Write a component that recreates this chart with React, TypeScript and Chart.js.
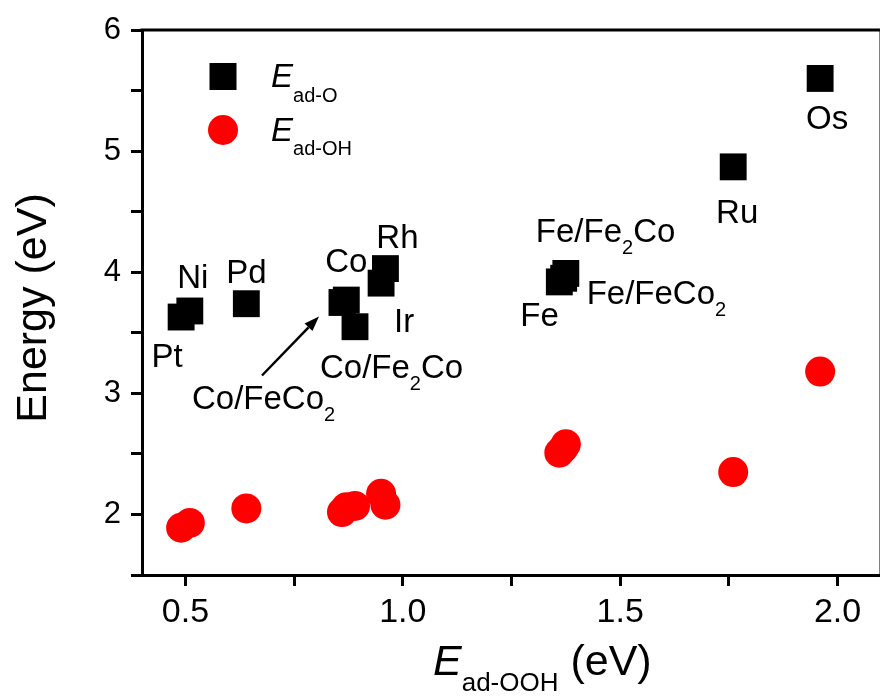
import { useEffect, useRef } from 'react';
import { Chart, registerables } from 'chart.js';

Chart.register(...registerables);

// ---------- data ----------
const categories = ['Pt', 'Ni', 'Pd', 'Co/FeCo2', 'Co', 'Co/Fe2Co', 'Ir', 'Rh', 'Fe', 'Fe/FeCo2', 'Fe/Fe2Co', 'Ru', 'Os'];
const eAdOOH = [0.49, 0.51, 0.64, 0.86, 0.87, 0.89, 0.95, 0.96, 1.36, 1.37, 1.375, 1.76, 1.96];
const eAdO = [3.63, 3.68, 3.74, 3.75, 3.77, 3.55, 3.91, 4.03, 3.92, 3.95, 3.99, 4.87, 5.60];
const eAdOH = [1.89, 1.93, 2.05, 2.02, 2.06, 2.07, 2.17, 2.08, 2.51, 2.55, 2.58, 2.35, 3.18];

const xTickValues = [0.5, 0.75, 1.0, 1.25, 1.5, 1.75, 2.0];
const xTickLabels = ['0.5', '', '1.0', '', '1.5', '', '2.0'];
const yTickValues = [1.5, 2, 2.5, 3, 3.5, 4, 4.5, 5, 5.5, 6];
const yTickLabels = ['', '2', '', '3', '', '4', '', '5', '', '6'];

const FONT = '"Liberation Sans", Arial, Helvetica, sans-serif';

type Run = { t: string; sub?: boolean; italic?: boolean };

// label text pieces for each category (subscripts marked)
const labelRuns: Run[][] = [
  [{ t: 'Pt' }],
  [{ t: 'Ni' }],
  [{ t: 'Pd' }],
  [{ t: 'Co/FeCo' }, { t: '2', sub: true }],
  [{ t: 'Co' }],
  [{ t: 'Co/Fe' }, { t: '2', sub: true }, { t: 'Co' }],
  [{ t: 'Ir' }],
  [{ t: 'Rh' }],
  [{ t: 'Fe' }],
  [{ t: 'Fe/FeCo' }, { t: '2', sub: true }],
  [{ t: 'Fe/Fe' }, { t: '2', sub: true }, { t: 'Co' }],
  [{ t: 'Ru' }],
  [{ t: 'Os' }],
];

// label placement (pixel offsets from each E_ad-O marker)
const labelLayout: { dx: number; dy: number; align: 'left' | 'center' }[] = [
  { dx: -14, dy: 50, align: 'center' },
  { dx: 3, dy: -23, align: 'center' },
  { dx: 0, dy: -21, align: 'center' },
  { dx: -150, dy: 106, align: 'left' },
  { dx: 0, dy: -28, align: 'center' },
  { dx: -35, dy: 51, align: 'left' },
  { dx: 23, dy: 49, align: 'center' },
  { dx: 12, dy: -21, align: 'center' },
  { dx: -39, dy: 44, align: 'left' },
  { dx: 23, dy: 26, align: 'left' },
  { dx: -30, dy: -31, align: 'left' },
  { dx: 4, dy: 56, align: 'center' },
  { dx: 7, dy: 51, align: 'center' },
];

function runFont(r: Run, size: number, subSize: number) {
  return `${r.italic ? 'italic ' : ''}${r.sub ? subSize : size}px ${FONT}`;
}

function runsWidth(ctx: CanvasRenderingContext2D, runs: Run[], size: number, subSize: number) {
  let w = 0;
  for (const r of runs) {
    ctx.font = runFont(r, size, subSize);
    w += ctx.measureText(r.t).width;
  }
  return w;
}

function drawRuns(
  ctx: CanvasRenderingContext2D,
  runs: Run[],
  x: number,
  y: number,
  align: 'left' | 'center',
  size: number,
  subSize: number,
  subDrop: number
) {
  let cx = align === 'center' ? x - runsWidth(ctx, runs, size, subSize) / 2 : x;
  ctx.textAlign = 'left';
  ctx.textBaseline = 'alphabetic';
  for (const r of runs) {
    ctx.font = runFont(r, size, subSize);
    ctx.fillText(r.t, cx, r.sub ? y + subDrop : y);
    cx += ctx.measureText(r.t).width;
  }
}

const decorPlugin = {
  id: 'decor',
  afterDraw(chart: any) {
    const { ctx, chartArea } = chart;
    const xs = chart.scales.x;
    const ys = chart.scales.y;
    ctx.save();
    ctx.fillStyle = '#000';
    ctx.strokeStyle = '#000';

    // top and right frame
    ctx.lineWidth = 3;
    ctx.beginPath();
    ctx.moveTo(chartArea.left - 1.5, chartArea.top);
    ctx.lineTo(chartArea.right, chartArea.top);
    ctx.lineTo(chartArea.right, chartArea.bottom);
    ctx.stroke();

    // point labels
    for (let i = 0; i < categories.length; i++) {
      const px = xs.getPixelForValue(eAdOOH[i]);
      const py = ys.getPixelForValue(eAdO[i]);
      const l = labelLayout[i];
      drawRuns(ctx, labelRuns[i], px + l.dx, py + l.dy, l.align, 33, 20, 12);
    }

    // arrow pointing to Co/FeCo2
    const ai = categories.indexOf('Co/FeCo2');
    const ax = xs.getPixelForValue(eAdOOH[ai]);
    const ay = ys.getPixelForValue(eAdO[ai]);
    const x0 = ax - 80, y0 = ay + 73;
    const x1 = ax - 23, y1 = ay + 14;
    const ang = Math.atan2(y1 - y0, x1 - x0);
    const hl = 15, hw = 5.5;
    const bx = x1 - hl * Math.cos(ang), by = y1 - hl * Math.sin(ang);
    ctx.lineWidth = 2.5;
    ctx.beginPath();
    ctx.moveTo(x0, y0);
    ctx.lineTo(bx, by);
    ctx.stroke();
    ctx.beginPath();
    ctx.moveTo(x1, y1);
    ctx.lineTo(bx + hw * Math.sin(ang), by - hw * Math.cos(ang));
    ctx.lineTo(bx - hw * Math.sin(ang), by + hw * Math.cos(ang));
    ctx.closePath();
    ctx.fill();

    // legend
    const lx = chartArea.left + 81;
    ctx.fillStyle = '#000';
    ctx.fillRect(lx - 13.5, 63, 27, 27);
    ctx.fillStyle = '#ff0000';
    ctx.beginPath();
    ctx.arc(lx, 130, 15, 0, Math.PI * 2);
    ctx.fill();
    ctx.fillStyle = '#000';
    drawRuns(ctx, [{ t: 'E', italic: true }, { t: 'ad-O', sub: true }], lx + 48, 87, 'left', 33, 20, 15);
    drawRuns(ctx, [{ t: 'E', italic: true }, { t: 'ad-OH', sub: true }], lx + 48, 141, 'left', 33, 20, 14);

    // x axis title
    drawRuns(
      ctx,
      [{ t: 'E', italic: true }, { t: 'ad-OOH', sub: true }, { t: ' (eV)' }],
      433,
      675,
      'left',
      43,
      26,
      16
    );

    // y axis title
    ctx.save();
    ctx.translate(46, 308);
    ctx.rotate(-Math.PI / 2);
    ctx.font = `43px ${FONT}`;
    ctx.textAlign = 'center';
    ctx.textBaseline = 'alphabetic';
    ctx.fillText('Energy (eV)', 0, 0);
    ctx.restore();

    ctx.restore();
  },
};

export default function App() {
  const ref = useRef<HTMLCanvasElement | null>(null);

  useEffect(() => {
    const canvas = ref.current;
    if (!canvas) return;
    const chart = new Chart(canvas, {
      type: 'scatter',
      data: {
        datasets: [
          {
            label: 'E_ad-O',
            data: eAdOOH.map((x, i) => ({ x, y: eAdO[i] })),
            pointStyle: 'rect',
            pointRadius: 19,
            pointHoverRadius: 19,
            backgroundColor: '#000000',
            borderColor: '#000000',
            borderWidth: 0,
          },
          {
            label: 'E_ad-OH',
            data: eAdOOH.map((x, i) => ({ x, y: eAdOH[i] })),
            pointStyle: 'circle',
            pointRadius: 15,
            pointHoverRadius: 15,
            backgroundColor: '#ff0000',
            borderColor: '#ff0000',
            borderWidth: 0,
          },
        ],
      },
      options: {
        responsive: false,
        animation: false,
        devicePixelRatio: 1,
        layout: { padding: { top: 30, right: 17, left: 0, bottom: 0 } },
        plugins: {
          legend: { display: false },
          tooltip: { enabled: false },
        },
        scales: {
          x: {
            type: 'linear',
            min: 0.4,
            max: 2.1,
            afterBuildTicks: (s: any) => {
              s.ticks = xTickValues.map((value) => ({ value }));
            },
            afterFit: (s: any) => {
              s.height = 122;
            },
            ticks: {
              autoSkip: false,
              maxRotation: 0,
              color: '#000',
              padding: 6,
              font: { family: FONT, size: 34 },
              callback: (v: any) => {
                const idx = xTickValues.findIndex((t) => Math.abs(t - Number(v)) < 1e-6);
                return idx >= 0 ? xTickLabels[idx] : '';
              },
            },
            grid: { drawOnChartArea: false, drawTicks: true, tickLength: 11, tickWidth: 3, tickColor: '#000' },
            border: { display: true, width: 3, color: '#000' },
          },
          y: {
            type: 'linear',
            min: 1.5,
            max: 6,
            afterBuildTicks: (s: any) => {
              s.ticks = yTickValues.map((value) => ({ value }));
            },
            afterFit: (s: any) => {
              s.width = 142;
            },
            ticks: {
              autoSkip: false,
              color: '#000',
              padding: 10,
              font: { family: FONT, size: 31 },
              callback: (v: any) => {
                const idx = yTickValues.findIndex((t) => Math.abs(t - Number(v)) < 1e-6);
                return idx >= 0 ? yTickLabels[idx] : '';
              },
            },
            grid: { drawOnChartArea: false, drawTicks: true, tickLength: 11, tickWidth: 3, tickColor: '#000' },
            border: { display: true, width: 3, color: '#000' },
          },
        },
      },
      plugins: [decorPlugin],
    });
    return () => chart.destroy();
  }, []);

  return (
    <div style={{ position: 'fixed', left: 0, top: 0, width: 880, height: 697, overflow: 'hidden', background: '#fff' }}>
      <canvas ref={ref} width={900} height={697} style={{ width: 900, height: 697, display: 'block' }} />
    </div>
  );
}
